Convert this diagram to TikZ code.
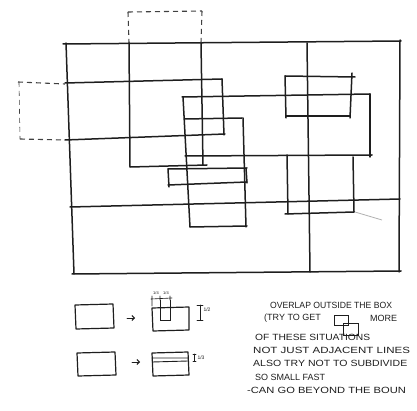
\documentclass[tikz,border=0pt]{standalone}
\usepackage{fontspec}
\setmainfont{Liberation Sans}
\usetikzlibrary{arrows.meta}
\definecolor{ink}{HTML}{1E1E1E}
\tikzset{
  pen/.style={draw=ink,line width=1.5pt,line cap=round,line join=round},
  thinpen/.style={draw=ink,line width=0.9pt,line cap=round},
  dashpen/.style={draw=ink!85,line width=1.1pt,dash pattern=on 5pt off 4pt},
  note/.style={anchor=west,inner sep=0pt,text=ink,font=\fontsize{9}{10}\selectfont},
  tiny/.style={inner sep=0pt,text=ink,font=\fontsize{4}{4}\selectfont}
}
\begin{document}
\begin{tikzpicture}[x=1pt,y=-1pt]
\useasboundingbox (0,0) rectangle (417,411);
% main frame
\draw[pen] (63,44) -- (401,41);
\draw[pen] (400,40) -- (399,272);
\draw[pen] (72,274) -- (401,271);
\draw[pen] (66,43) -- (74,274);
\draw[pen] (307,43) -- (310,272);
\draw[pen] (70,207) -- (400,199);
% dashed rect on top
\draw[dashpen] (128,12) -- (202,11);
\draw[dashpen] (128,12) -- (129,43);
\draw[dashpen] (202,11) -- (201,43);
\draw[pen] (129,43) -- (130,167);
\draw[pen] (201,43) -- (203,165);
\draw[pen] (130,167) -- (207,165);
% dashed rect on left
\draw[dashpen] (18,82) -- (65,84);
\draw[dashpen,line width=0.6pt] (19,82) -- (20,139);
\draw[dashpen] (20,139) -- (65,140);
\draw[pen] (65,83) -- (222,79);
\draw[pen] (222,79) -- (224,135);
\draw[pen] (65,140) -- (225,134);
% large middle rect
\draw[pen] (182,97) -- (370,94);
\draw[pen] (370,94) -- (370,157);
\draw[pen] (185,156) -- (372,155);
\draw[pen] (183,97) -- (190,227);
% tall rect
\draw[pen] (185,119) -- (242,118);
\draw[pen] (243,118) -- (246,227);
\draw[pen] (190,227) -- (247,226);
% small flat rect
\draw[pen] (168,169) -- (247,168);
\draw[pen] (168,169) -- (169,187);
\draw[pen] (168,185) -- (247,182);
\draw[pen] (246,168) -- (247,183);
% right top rect
\draw[pen] (285,76) -- (355,77);
\draw[pen] (285,76) -- (286,118);
\draw[pen] (286,116) -- (350,116);
\draw[pen] (352,73) -- (350,118);
% right bottom rect
\draw[pen] (287,155) -- (288,214);
\draw[pen] (285,214) -- (354,212);
\draw[pen] (353,157) -- (354,212);
\draw[draw=ink!35,line width=0.8pt] (355,212) -- (382,220);
% bottom sketches
\draw[pen,line width=1.2pt] (75,305) -- (113,304) -- (114,328) -- (76,329) -- cycle;
\draw[thinpen,-{Straight Barb[length=2.5pt]}] (127,318) -- (135,318);
\draw[pen,line width=1.2pt] (152,308) -- (189,307) -- (189,330) -- (153,331) -- cycle;
\draw[thinpen] (160,300) -- (160,320) -- (170,320) -- (170,300);
\draw[thinpen,line width=0.6pt] (152,296) -- (152,306) (160,296) -- (160,300) (170,296) -- (170,300) (151,299) -- (172,298);
\node[tiny] (qa) at (156,293) {1/4};
\node[tiny] (qb) at (166,293) {1/4};
\draw[thinpen,line width=0.6pt] (197,305) -- (203,305) (200,305) -- (200,320) (197,320) -- (203,320);
\node[tiny,font=\fontsize{5}{5}\selectfont] (qc) at (207,310) {1/2};
\draw[pen,line width=1.2pt] (77,353) -- (115,352) -- (116,375) -- (78,376) -- cycle;
\draw[thinpen,-{Straight Barb[length=2.5pt]}] (132,362) -- (140,362);
\draw[pen,line width=1.2pt] (152,353) -- (188,352) -- (189,375) -- (153,376) -- cycle;
\draw[thinpen] (152,358) -- (188,358) (152,362) -- (188,361);
\draw[thinpen,line width=0.6pt] (193,354) -- (196,354) (194.5,354) -- (194.5,361) (193,361) -- (196,361);
\node[tiny,font=\fontsize{5}{5}\selectfont] (qd) at (201,358) {1/3};
% notes
\node[note] (n1) at (270,305) {\scalebox{0.96}[1]{OVERLAP OUTSIDE THE BOX}};
\node[note] (n2) at (264,318) {(TRY TO GET};
\draw[thinpen,line width=1pt] (334,315) rectangle (348,325);
\draw[thinpen,line width=1pt] (343,323) rectangle (358,335);
\node[note] (n2b) at (370,318) {MORE};
\node[note] (n3) at (255,337) {\scalebox{1.14}[1]{OF THESE SITUATIONS}};
\node[note] (n4) at (253,350) {\scalebox{1.28}[1]{NOT JUST ADJACENT LINES}};
\node[note] (n5) at (253,363) {\scalebox{1.17}[1]{ALSO TRY NOT TO SUBDIVIDE}};
\node[note] (n6) at (255,377) {SO SMALL FAST};
\node[note] (n7) at (247,390) {\scalebox{1.24}[1]{-CAN GO BEYOND THE BOUN}};
\end{tikzpicture}
\end{document}
